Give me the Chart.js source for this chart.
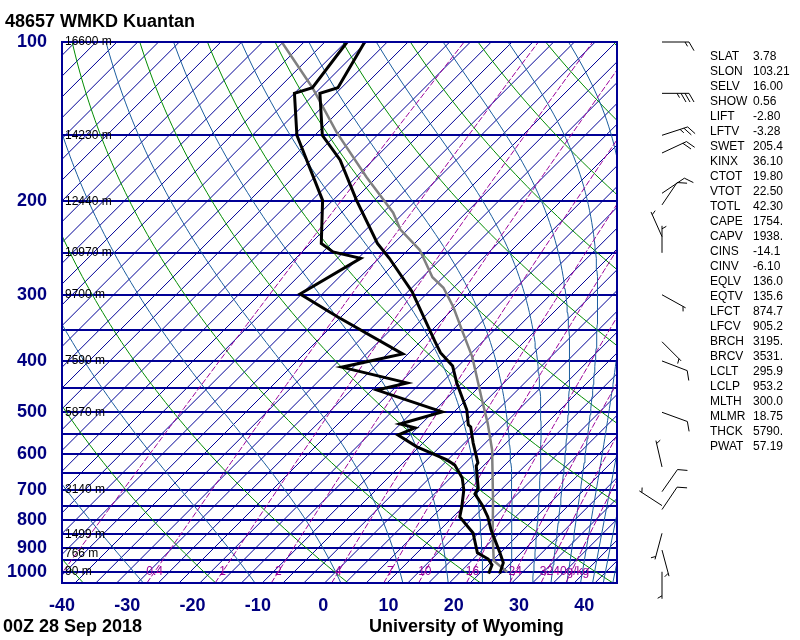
<!DOCTYPE html>
<html><head><meta charset="utf-8">
<script src="https://cdn.jsdelivr.net/npm/chart.js@4.4.1/dist/chart.umd.min.js"></script>
<style>html,body{margin:0;padding:0;background:#fff;}canvas{display:block;}</style>
</head><body>
<canvas id="c" width="800" height="640"></canvas>
<script>
// ===== DATA =====
const tempPres = [100,122,125,150,167,199,240,256,296,368,386,409,440,474,495,528,533,571,623,631,695,713,748,788,834,918,962,1008];
const tempVals = [-76.5,-73.6,-75.5,-68.7,-62.2,-53.5,-43.7,-39.6,-31.0,-19.8,-17.3,-13.4,-10.2,-6.6,-4.5,-2.0,-1.3,1.5,5.3,5.5,9.2,9.6,12.4,15.1,17.6,22.3,24.5,25.6];
const dewPres  = [100,122,125,150,199,240,249,256,299,330,388,411,440,454,499,526,535,552,581,615,629,665,701,755,788,845,921,946,971,1008];
const dewVals  = [-79.2,-77.5,-79.4,-72.6,-58.7,-52.3,-49.2,-44.0,-47.8,-38.6,-22.9,-30.2,-17.8,-21.3,-8.0,-12.6,-9.7,-11.2,-6.5,0.1,2.1,5.2,7.3,9.6,10.8,15.3,19.0,21.6,23.1,23.9];
const parcelPres = [100,122,148,180,210,226,247,278,291,316,354,393,474,524,589,732,845,953,1001];
const parcelVals = [-89.2,-77.5,-67.0,-55.5,-46.0,-42.3,-36.2,-30.1,-26.8,-22.4,-16.9,-11.8,-3.7,0.7,5.5,13.3,18.3,22.7,26.5];

const xTicks = [-40,-30,-20,-10,0,10,20,30,40];
const pressureLabels = [100,200,300,400,500,600,700,800,900,1000];
const isobars = [100,150,200,250,300,350,400,450,500,550,600,650,700,750,800,850,900,950,1000,1050];
const heightPres = [100,150,200,250,300,400,500,700,850,925,1000];
const heightVals = ['16600','14230','12440','10970','9700','7590','5870','3140','1499','766','90'];
const mixRatios = [0.1,0.4,1,2,4,7,10,16,24,32,40];
const mixLabels = ['','0.4','1','2','4','7','10','16','24','32','40g/kg'];
const dryThetaC = [-40,-20,0,20,40,60,80,100,120,140,160,180];
const moistThetaEC = [-30,-10,10,30,50,70,90,110,130,150,170,190,210,230,250,270,290,310];

const windPres = [100,125,150,162,193,203,233,250,300,368,400,500,634,706,750,763,846,910,1000];
const windDir  = [90,90,72,65,56,34,336,0,119,135,111,110,347,35,303,34,195,165,180];
const windSpd  = [15,35,25,20,10,10,5,5,5,5,10,10,5,10,5,10,5,5,5];

const statNames = ['SLAT','SLON','SELV','SHOW','LIFT','LFTV','SWET','KINX','CTOT','VTOT','TOTL','CAPE','CAPV','CINS','CINV','EQLV','EQTV','LFCT','LFCV','BRCH','BRCV','LCLT','LCLP','MLTH','MLMR','THCK','PWAT'];
const statVals  = ['3.78','103.21','16.00','0.56','-2.80','-3.28','205.4','36.10','19.80','22.50','42.30','1754.','1938.','-14.1','-6.10','136.0','135.6','874.7','905.2','3195.','3531.','295.9','953.2','300.0','18.75','5790.','57.19'];

const titleText = '48657 WMKD Kuantan';
const dateText = '00Z 28 Sep 2018';
const creditText = 'University of Wyoming';

// ===== skew-T geometry =====
const SKEW = 35.24, PBOT = 1050, PTOP = 100, TMIN = -40, TMAX = 45;
const ISO_BASE = -69.86, ISO_STEP = 3.185;
const sx = (T, p) => T + SKEW * Math.log(PBOT / p);
const pts = (ps, ts) => ps.map((p, i) => ({x: sx(ts[i], p), y: p}));
const pGrid = [];
for (let i = 0; i <= 90; i++) pGrid.push(PBOT * Math.pow(PTOP / PBOT, i / 90));

const esat = Tc => 6.112 * Math.exp(17.67 * Tc / (Tc + 243.5));
function thetaE(TK, p) {
  const es = esat(TK - 273.15);
  if (es >= p * 0.95) return Infinity;
  const rs = 0.622 * es / (p - es);
  return TK * Math.pow(1000 / p, 0.2857) * Math.exp(2.5e6 * rs / (1004 * TK));
}
function moistT(te, p) {
  let lo = 120, hi = 340;
  for (let k = 0; k < 50; k++) {
    const m = (lo + hi) / 2;
    if (thetaE(m, p) > te) hi = m; else lo = m;
  }
  return (lo + hi) / 2 - 273.15;
}
function mixTd(w, p) {
  const e = p * w / (622 + w);
  const l = Math.log(e / 6.112);
  return 243.5 * l / (17.67 - l);
}

const NAVY = '#000096', GREEN = '#008c00', TEAL = '#1a5c9e', PURPLE = '#9a009a';
const base = {showLine: true, pointRadius: 0, fill: false, tension: 0, borderWidth: 1};
const datasets = [];
datasets.push(Object.assign({}, base, {data: pts(tempPres, tempVals), borderColor: '#000', borderWidth: 3, order: 0}));
datasets.push(Object.assign({}, base, {data: pts(dewPres, dewVals), borderColor: '#000', borderWidth: 3, order: 0}));
datasets.push(Object.assign({}, base, {data: pts(parcelPres, parcelVals), borderColor: '#808080', borderWidth: 2.5, order: 1}));
mixRatios.forEach(w => datasets.push(Object.assign({}, base, {
  data: pGrid.map(p => ({x: sx(mixTd(w, p), p), y: p})), borderColor: PURPLE, borderDash: [6, 2], order: 2})));
moistThetaEC.forEach(t => datasets.push(Object.assign({}, base, {
  data: pGrid.map(p => ({x: sx(moistT(t + 273.15, p), p), y: p})), borderColor: TEAL, order: 3})));
dryThetaC.forEach(t => datasets.push(Object.assign({}, base, {
  data: pGrid.map(p => ({x: sx((t + 273.15) * Math.pow(p / 1000, 0.2857) - 273.15, p), y: p})), borderColor: GREEN, order: 4})));
for (let k = -18; k <= 40; k++) {
  const t = ISO_BASE + ISO_STEP * k;
  datasets.push(Object.assign({}, base, {data: [{x: sx(t, PBOT), y: PBOT}, {x: sx(t, PTOP), y: PTOP}], borderColor: NAVY, order: 5}));
}

const FONT = '"Liberation Sans", Arial, Helvetica, sans-serif';

function drawBarb(ctx, x0, y0, dir, spd) {
  const L = 27, r = dir * Math.PI / 180;
  const ux = Math.sin(r), uy = -Math.cos(r);
  const a = 60 * Math.PI / 180;
  const bx = ux * Math.cos(a) - uy * Math.sin(a), by = ux * Math.sin(a) + uy * Math.cos(a);
  ctx.beginPath();
  ctx.moveTo(x0, y0); ctx.lineTo(x0 + ux * L, y0 + uy * L);
  let s = Math.round(spd / 5) * 5, pos = L;
  while (s >= 50) {
    const x1 = x0 + ux * pos, y1 = y0 + uy * pos;
    ctx.moveTo(x1, y1); ctx.lineTo(x1 + bx * 10, y1 + by * 10);
    ctx.lineTo(x0 + ux * (pos - 5), y0 + uy * (pos - 5));
    pos -= 7; s -= 50;
  }
  while (s >= 10) {
    const x1 = x0 + ux * pos, y1 = y0 + uy * pos;
    ctx.moveTo(x1, y1); ctx.lineTo(x1 + bx * 10, y1 + by * 10);
    pos -= 4; s -= 10;
  }
  if (s >= 5) {
    if (pos === L) pos -= 3;
    const x1 = x0 + ux * pos, y1 = y0 + uy * pos;
    ctx.moveTo(x1, y1); ctx.lineTo(x1 + bx * 5, y1 + by * 5);
  }
  ctx.stroke();
}

const overlay = {
  id: 'overlay',
  afterDraw(chart) {
    const ctx = chart.ctx, xs = chart.scales.x, ys = chart.scales.y, ca = chart.chartArea;
    ctx.save();
    ctx.strokeStyle = NAVY; ctx.lineWidth = 2;
    ctx.strokeRect(ca.left, ca.top, ca.right - ca.left, ca.bottom - ca.top);
    ctx.fillStyle = '#000'; ctx.font = '12px ' + FONT; ctx.textBaseline = 'middle'; ctx.textAlign = 'left';
    heightPres.forEach((p, i) => ctx.fillText(heightVals[i] + ' m', ca.left + 3, ys.getPixelForValue(p)));
    ctx.fillStyle = PURPLE; ctx.textAlign = 'center';
    mixRatios.forEach((w, i) => {
      if (!mixLabels[i]) return;
      ctx.fillText(mixLabels[i], xs.getPixelForValue(sx(mixTd(w, 1000), 1000)), ys.getPixelForValue(1000));
    });
    ctx.strokeStyle = '#000'; ctx.lineWidth = 1;
    windPres.forEach((p, i) => drawBarb(ctx, 662, ys.getPixelForValue(p), windDir[i], windSpd[i]));
    ctx.fillStyle = '#000'; ctx.font = '12px ' + FONT; ctx.textAlign = 'left';
    statNames.forEach((n, i) => {
      const y = 57 + 15 * i;
      ctx.fillText(n, 710, y);
      ctx.fillText(statVals[i], 753, y);
    });
    ctx.font = 'bold 18px ' + FONT;
    ctx.fillText(titleText, 5, 22);
    ctx.fillText(dateText, 3, 627);
    ctx.fillText(creditText, 369, 627);
    ctx.restore();
  }
};

new Chart(document.getElementById('c'), {
  type: 'scatter',
  data: {datasets},
  options: {
    responsive: false, animation: false, devicePixelRatio: 1,
    layout: {padding: {left: 0, right: 183, top: 42, bottom: 0}},
    plugins: {legend: {display: false}, tooltip: {enabled: false}},
    scales: {
      x: {
        type: 'linear', min: TMIN, max: TMAX,
        afterBuildTicks: s => { s.ticks = xTicks.map(v => ({value: v})); },
        afterFit: s => { s.height = 57; },
        grid: {display: false}, border: {display: false},
        ticks: {padding: 4, color: '#000080', font: {family: FONT, size: 18, weight: 'bold'}, autoSkip: false, maxRotation: 0}
      },
      y: {
        type: 'logarithmic', reverse: true, min: PTOP, max: PBOT,
        afterBuildTicks: s => { s.ticks = isobars.map(v => ({value: v})); },
        afterFit: s => { s.width = 62; },
        grid: {color: NAVY, lineWidth: 2, drawTicks: false}, border: {display: false},
        ticks: {padding: 15, color: '#000080', autoSkip: false, font: {family: FONT, size: 18, weight: 'bold'},
          callback: v => pressureLabels.includes(v) ? String(v) : ''}
      }
    }
  },
  plugins: [overlay]
});
</script>
</body></html>
